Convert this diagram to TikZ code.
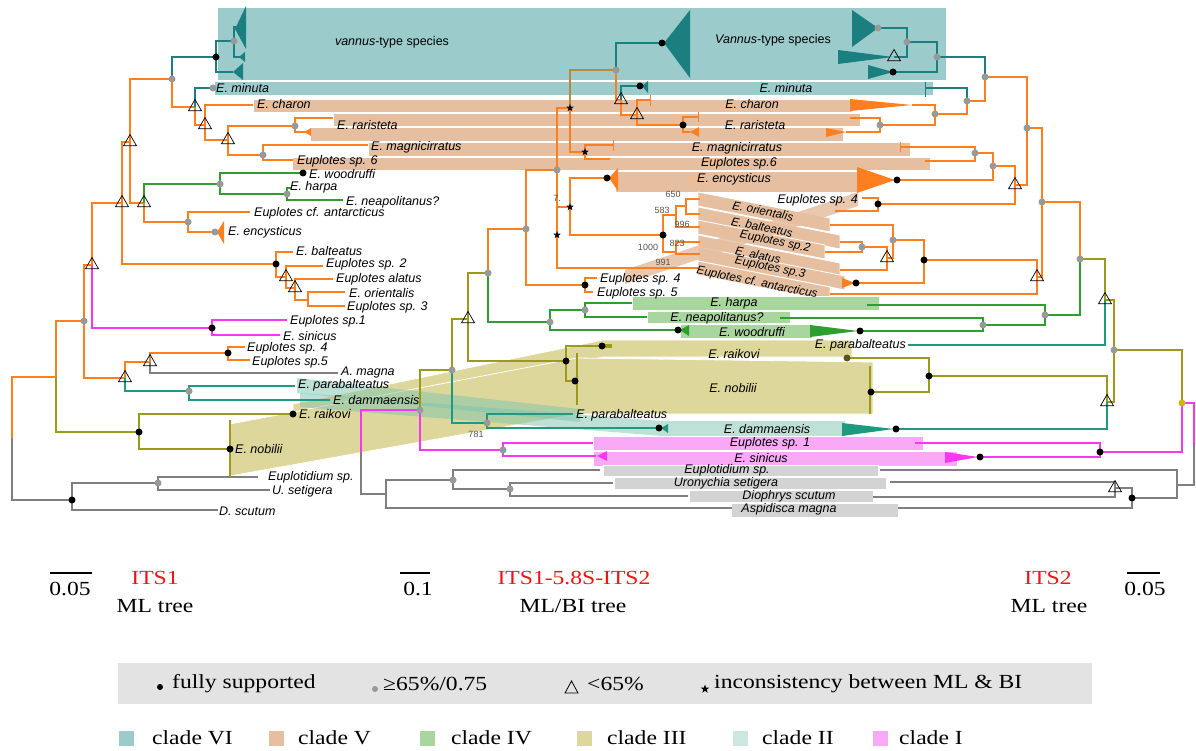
\documentclass[tikz,border=0pt]{standalone}
\usepackage{fontspec}
\setmainfont{Liberation Serif}
\newfontfamily\sanf{Liberation Sans}
\newfontfamily\lgf[FakeStretch=1.18]{Liberation Serif}
\usetikzlibrary{shapes.geometric}
\definecolor{cOr}{HTML}{FF7F1E}
\definecolor{cTe}{HTML}{1B7F7F}
\definecolor{cTeB}{HTML}{9BCBCB}
\definecolor{cTan}{HTML}{E6BFA0}
\definecolor{cGr}{HTML}{2E9E2E}
\definecolor{cGrB}{HTML}{A9D69E}
\definecolor{cOl}{HTML}{9C9A1C}
\definecolor{cOlB}{HTML}{DDD79B}
\definecolor{cII}{HTML}{1F9A80}
\definecolor{cIIB}{HTML}{7FC4B0}
\definecolor{cMa}{HTML}{F838F0}
\definecolor{cMaB}{HTML}{FAA9F7}
\definecolor{cGy}{HTML}{7F7F7F}
\definecolor{cGyB}{HTML}{D3D3D3}
\definecolor{cGd}{HTML}{999999}
\definecolor{cBr}{HTML}{B8893A}
\definecolor{cLeg}{HTML}{E3E3E3}
\definecolor{cRed}{HTML}{F01414}
\definecolor{cNum}{HTML}{555555}
\definecolor{cYd}{HTML}{C8B41E}
\definecolor{cOd}{HTML}{5A5418}
\newcommand\labf{\fontsize{12.5}{14}\selectfont\sanf\itshape}
\newcommand\slf{\fontsize{11.8}{13}\selectfont\sanf\itshape}
\newcommand\numf{\fontsize{9}{10}\selectfont\sanf}
\newcommand\legf{\fontsize{20}{22}\selectfont\lgf}
\newcommand\brn[3]{\draw[br,#1] (#2) |- (#3);}
\newcommand\BD[1]{\node[bd] (b#1) at (#1) {};}
\newcommand\GD[1]{\node[gd] (g#1) at (#1) {};}
\newcommand\TR[1]{\node[tri] (t#1) at (#1) {};}
\newcommand\ST[1]{\node[st] (s#1) at (#1) {};}
\begin{document}
\begin{tikzpicture}[x=1pt,y=-1pt,
  br/.style={line width=1.7pt},
  bd/.style={circle,fill=black,inner sep=0pt,minimum size=7pt},
  gd/.style={circle,fill=cGd,inner sep=0pt,minimum size=7pt},
  tri/.style={regular polygon,regular polygon sides=3,draw=black,line width=0.7pt,inner sep=0pt,minimum size=15pt},
  st/.style={star,star points=5,star point ratio=2.5,fill=black,inner sep=0pt,minimum size=8pt},
  lab/.style={font=\labf,inner sep=0pt,anchor=west},
  labc/.style={font=\labf,inner sep=0pt},
  labs/.style={font=\slf,inner sep=0pt,rotate=-11.3},
  num/.style={font=\numf,text=cNum,inner sep=0pt},
  leg/.style={font=\legf,inner sep=0pt},
  band/.style={draw=white,line width=0.8pt}]
\useasboundingbox (0,0) rectangle (1196,751);
\fill[white] (0,0) rectangle (1196,751);

% ---------------- bands ----------------
\fill[cTeB] (218,8) rectangle (946,80);
\fill[cTeB] (215,82) rectangle (933,95);
\fill[cTan,band] (253,99) rectangle (852,112);
\fill[cTan,band] (333,113) rectangle (860,126);
\fill[cTan,band] (310,127) rectangle (843,141);
\fill[cTan,band] (368,142) rectangle (910,156);
\fill[cTan,band] (292,157) rectangle (930,170);
\fill[cTan,band] (615,171) rectangle (858,192);
% slanted clade V bands (middle -> right)
\fill[cTan,band] (698,192) -- (830,218) -- (830,232) -- (698,206) -- cycle;
\fill[cTan,band] (698,207) -- (840,235) -- (840,249) -- (698,221) -- cycle;
\fill[cTan,band] (698,220) -- (825,245) -- (825,259) -- (698,234) -- cycle;
\fill[cTan,band] (698,235) -- (840,263) -- (840,277) -- (698,249) -- cycle;
\fill[cTan,band] (698,247) -- (845,276) -- (845,290) -- (698,261) -- cycle;
\fill[cTan,band] (698,261) -- (830,287) -- (830,301) -- (698,275) -- cycle;
\fill[cTan,opacity=0.85] (625,270) -- (858,192) -- (858,206) -- (625,284) -- cycle;
% clade IV
\fill[cGrB,band] (632,296) rectangle (879,310);
\fill[cGrB,band] (647,311) rectangle (790,323);
\fill[cGrB,band] (680,324) rectangle (812,338);
% clade III
\fill[cOlB,band] (293,404) -- (603,340) -- (852,340) -- (852,357) -- (603,357) -- (293,420) -- cycle;
\fill[cOlB,band] (230,424) -- (577,358) -- (873,362) -- (873,414) -- (577,414) -- (230,476) -- cycle;
% clade II
\fill[cIIB,opacity=0.5] (297,378) -- (580,409) -- (580,422) -- (297,393) -- cycle;
\fill[cIIB,opacity=0.5] (300,393) -- (662,421) -- (845,421) -- (845,436) -- (662,436) -- (300,407) -- cycle;
% clade I
\fill[cMaB,band] (593,436) rectangle (923,450);
\fill[cMaB,band] (593,451) rectangle (957,466);
% outgroups
\fill[cGyB,band] (603,465) rectangle (878,476);
\fill[cGyB,band] (614,477) rectangle (886,489);
\fill[cGyB,band] (689,490) rectangle (873,502);
\fill[cGyB,band] (731,503) rectangle (898,517);

% ---------------- LEFT TREE ----------------
\coordinate (L0) at (12,438);
\coordinate (L1) at (56,377);
\coordinate (L2) at (84,321);
\coordinate (L3) at (92,265);
\coordinate (L4) at (125,378);
\coordinate (L5) at (122,203);
\coordinate (L6) at (130,142);
\coordinate (L7) at (172,79);
\coordinate (L8) at (144,203);
\coordinate (L9) at (195,107);
\coordinate (L10) at (205,125);
\coordinate (L11) at (228,140);
\coordinate (L12) at (295,126);
\coordinate (L13) at (263,155);
\coordinate (Lvan) at (216,57);
\coordinate (Lv1) at (234,41);
\coordinate (Lgr) at (220,184);
\coordinate (Lgr2) at (287,194);
\coordinate (L14) at (188,222);
\coordinate (Lbal) at (276,264);
\coordinate (L15) at (286,277);
\coordinate (L16) at (295,288);
\coordinate (L17) at (308,300);
\coordinate (Lmag) at (212,328);
\coordinate (L18) at (150,362);
\coordinate (L19) at (228,353);
\coordinate (LII) at (189,391);
\coordinate (Lol) at (139,432);
\coordinate (Lout) at (72,500);
\coordinate (L20) at (158,483);
\coordinate (tLva) at (236,27);
\coordinate (tLvb) at (240,57);
\coordinate (tLvc) at (233,72);
\coordinate (tLmin) at (213,88);
\coordinate (tLcha) at (253,105);
\coordinate (tLra) at (333,118);
\coordinate (tLrb) at (306,132);
\coordinate (tLmag) at (368,145);
\coordinate (tLsp6) at (293,160);
\coordinate (tLwoo) at (303,173);
\coordinate (tLhar) at (291,188);
\coordinate (tLnea) at (343,200);
\coordinate (tLant) at (250,212);
\coordinate (tLenc) at (215,232);
\coordinate (tLbal) at (293,252);
\coordinate (tLsp2) at (323,266);
\coordinate (tLala) at (333,279);
\coordinate (tLori) at (345,292);
\coordinate (tLsp3) at (345,306);
\coordinate (tLsp1) at (287,320);
\coordinate (tLsin) at (280,335);
\coordinate (tLsp4) at (245,347);
\coordinate (tLsp5) at (250,360);
\coordinate (tLama) at (338,373);
\coordinate (tLpar) at (295,386);
\coordinate (tLdam) at (330,400);
\coordinate (tLrai) at (293,414);
\coordinate (tLnob) at (230,449);
\coordinate (tLeud) at (258,477);
\coordinate (tLuro) at (270,490);
\coordinate (tLdsc) at (218,510);

\brn{cOr}{L0}{L1} \brn{cGy}{L0}{Lout}
\brn{cOr}{L1}{L2} \brn{cOl}{L1}{Lol}
\brn{cOr}{L2}{L3} \brn{cOr}{L2}{L4}
\brn{cOr}{L3}{L5} \brn{cMa}{L3}{Lmag}
\brn{cOr}{L5}{L6} \brn{cOr}{L5}{Lbal}
\brn{cOr}{L6}{L7} \brn{cOr}{L6}{L8}
\brn{cTe}{L7}{Lvan} \brn{cOr}{L7}{L9}
\brn{cTe}{Lvan}{Lv1} \brn{cTe}{Lvan}{tLvc}
\brn{cTe}{Lv1}{tLva} \brn{cTe}{Lv1}{tLvb}
\brn{cTe}{L9}{tLmin} \brn{cOr}{L9}{L10}
\brn{cOr}{L10}{tLcha} \brn{cOr}{L10}{L11}
\brn{cOr}{L11}{L12} \brn{cOr}{L11}{L13}
\brn{cOr}{L12}{tLra} \brn{cOr}{L12}{tLrb}
\brn{cOr}{L13}{tLmag} \brn{cOr}{L13}{tLsp6}
\brn{cGr}{L8}{Lgr} \brn{cOr}{L8}{L14}
\brn{cGr}{Lgr}{tLwoo} \brn{cGr}{Lgr}{Lgr2}
\brn{cGr}{Lgr2}{tLhar} \brn{cGr}{Lgr2}{tLnea}
\brn{cOr}{L14}{tLant} \brn{cOr}{L14}{tLenc}
\brn{cOr}{Lbal}{tLbal} \brn{cOr}{Lbal}{L15}
\brn{cOr}{L15}{tLsp2} \brn{cOr}{L15}{L16}
\brn{cOr}{L16}{tLala} \brn{cOr}{L16}{L17}
\brn{cOr}{L17}{tLori} \brn{cOr}{L17}{tLsp3}
\brn{cMa}{Lmag}{tLsp1} \brn{cMa}{Lmag}{tLsin}
\brn{cOr}{L4}{L18} \brn{cII}{L4}{LII}
\brn{cOr}{L18}{L19} \brn{cGy}{L18}{tLama}
\brn{cOr}{L19}{tLsp4} \brn{cOr}{L19}{tLsp5}
\brn{cII}{LII}{tLpar} \brn{cII}{LII}{tLdam}
\brn{cOl}{Lol}{tLrai} \brn{cOl}{Lol}{tLnob}
\brn{cGy}{Lout}{L20} \brn{cGy}{Lout}{tLdsc}
\brn{cGy}{L20}{tLeud} \brn{cGy}{L20}{tLuro}

% collapsed clades (left)
\fill[cTe] (235,29) -- (246,6) -- (246,49) -- cycle;
\fill[cTe] (239,57) -- (245,52) -- (245,62) -- cycle;
\fill[cTe] (233,72) -- (243,63) -- (243,80) -- cycle;
\fill[cOr] (217,232) -- (224,221) -- (224,244) -- cycle;
\fill[cOr] (304,132) -- (311,128) -- (311,136) -- cycle;
\draw[cOl,line width=1.1pt] (230,420) -- (230,477);

% ---------------- MIDDLE TREE ----------------
\coordinate (M0) at (361,452);
\coordinate (M1) at (420,410);
\coordinate (Mout) at (386,494);
\coordinate (Mo1) at (453,480);
\coordinate (Mo2) at (510,489);
\coordinate (MI) at (503,450);
\coordinate (M2) at (452,370);
\coordinate (MII) at (487,423);
\coordinate (M3) at (468,319);
\coordinate (M4) at (488,273);
\coordinate (M5) at (566,361);
\coordinate (MIV) at (550,322);
\coordinate (MIV2) at (585,310);
\coordinate (M6) at (526,229);
\coordinate (M7) at (557,170);
\coordinate (M8) at (585,285);
\coordinate (M9) at (570,108);
\coordinate (MD) at (557,235);
\coordinate (M10) at (570,207);
\coordinate (MF) at (585,152);
\coordinate (ME) at (616,70);
\coordinate (MG) at (621,100);
\coordinate (MH) at (637,115);
\coordinate (MI2) at (683,125);
\coordinate (MC) at (663,235);
\coordinate (Ma) at (676,215);
\coordinate (Mb) at (686,206);
\coordinate (Md) at (676,252);
\coordinate (tMeud) at (600,470);
\coordinate (tMuro) at (613,483);
\coordinate (tMdsc) at (688,496);
\coordinate (tMasp) at (732,508);
\coordinate (tMsp1) at (593,443);
\coordinate (tMsin) at (596,456);
\coordinate (tMpar) at (573,414);
\coordinate (tMdam) at (659,428);
\coordinate (tMhar) at (632,303);
\coordinate (tMnea) at (647,317);
\coordinate (tMwoo) at (678,330);
\coordinate (tMrai) at (602,346);
\coordinate (tMnob) at (575,381);
\coordinate (tMsp4) at (597,278);
\coordinate (tMsp5) at (593,292);
\coordinate (tMant) at (698,268);
\coordinate (tMmag) at (613,145);
\coordinate (tMsp6) at (610,159);
\coordinate (tMvan) at (662,43);
\coordinate (tMmin) at (640,86);
\coordinate (tMcha) at (650,100);
\coordinate (tMra) at (698,117);
\coordinate (tMrb) at (690,132);
\coordinate (tMenc) at (607,178);
\coordinate (tMori) at (700,199);
\coordinate (tMbal) at (700,214);
\coordinate (tMsp2) at (700,227);
\coordinate (tMala) at (700,242);
\coordinate (tMsp3) at (700,254);

\brn{cMa}{M0}{M1} \brn{cGy}{M0}{Mout}
\brn{cGy}{Mout}{Mo1} \brn{cGy}{Mout}{tMasp}
\brn{cGy}{Mo1}{tMeud} \brn{cGy}{Mo1}{Mo2}
\brn{cGy}{Mo2}{tMuro} \brn{cGy}{Mo2}{tMdsc}
\brn{cOl}{M1}{M2} \brn{cMa}{M1}{MI}
\brn{cMa}{MI}{tMsp1} \brn{cMa}{MI}{tMsin}
\brn{cOl}{M2}{M3} \brn{cII}{M2}{MII}
\brn{cII}{MII}{tMpar} \brn{cII}{MII}{tMdam}
\brn{cOl}{M3}{M4} \brn{cOl}{M3}{M5}
\brn{cOr}{M4}{M6} \brn{cGr}{M4}{MIV}
\brn{cGr}{MIV}{MIV2} \brn{cGr}{MIV}{tMwoo}
\brn{cGr}{MIV2}{tMhar} \brn{cGr}{MIV2}{tMnea}
\brn{cOl}{M5}{tMrai} \brn{cOl}{M5}{tMnob}
\brn{cOr}{M6}{M7} \brn{cOr}{M6}{M8}
\brn{cOr}{M8}{tMsp4} \brn{cOr}{M8}{tMsp5}
\brn{cOr}{M7}{M9} \brn{cOr}{M7}{MD}
\brn{cBr}{M9}{ME} \brn{cOr}{M9}{MF}
\brn{cOr}{MF}{tMmag} \brn{cOr}{MF}{tMsp6}
\brn{cTe}{ME}{tMvan} \brn{cOr}{ME}{MG}
\brn{cTe}{MG}{tMmin} \brn{cOr}{MG}{MH}
\brn{cOr}{MH}{tMcha} \brn{cOr}{MH}{MI2}
\brn{cOr}{MI2}{tMra} \brn{cOr}{MI2}{tMrb}
\brn{cOr}{MD}{M10} \brn{cOr}{MD}{tMant}
\brn{cOr}{M10}{tMenc} \brn{cOr}{M10}{MC}
\brn{cOr}{MC}{Ma} \brn{cOr}{MC}{Md}
\brn{cOr}{Ma}{Mb} \brn{cOr}{Ma}{tMsp2}
\brn{cOr}{Mb}{tMori} \brn{cOr}{Mb}{tMbal}
\brn{cOr}{Md}{tMala} \brn{cOr}{Md}{tMsp3}

% collapsed clades (middle)
\fill[cTe] (664,43) -- (690,10) -- (690,78) -- cycle;
\fill[cTe] (642,86) -- (648,81) -- (648,93) -- cycle;
\fill[cOr] (609,178) -- (618,168) -- (618,191) -- cycle;
\fill[cGr] (680,330) -- (689,325) -- (689,336) -- cycle;
\fill[cII] (661,428) -- (668,424) -- (668,433) -- cycle;
\fill[cMa] (597,456) -- (607,451) -- (607,461) -- cycle;
\fill[cOr] (690,132) -- (699,127) -- (699,137) -- cycle;
\draw[cOr,line width=1pt] (650,95) -- (650,106) (613,140) -- (613,151) (698,112) -- (698,122);
\draw[cOl,line width=4pt] (603,346) -- (612,346);
\draw[cOl,line width=1.1pt] (577,353) -- (577,405);

% ---------------- RIGHT TREE ----------------
\coordinate (R0) at (1194,445);
\coordinate (RM) at (1182,403);
\coordinate (Rout) at (1177,485);
\coordinate (Ro1) at (1132,498);
\coordinate (Ro2) at (1115,488);
\coordinate (RI) at (1100,452);
\coordinate (R1) at (1114,350);
\coordinate (R2) at (1105,300);
\coordinate (R3) at (1107,402);
\coordinate (R4) at (929,376);
\coordinate (RW) at (1080,259);
\coordinate (RIV) at (1045,315);
\coordinate (RIV2) at (983,325);
\coordinate (RP) at (1042,202);
\coordinate (R5) at (1027,128);
\coordinate (R6) at (1037,277);
\coordinate (Rtop) at (985,77);
\coordinate (R7) at (1015,185);
\coordinate (Rvan) at (937,57);
\coordinate (Rv1) at (907,42);
\coordinate (Rmin) at (967,101);
\coordinate (R8) at (935,114);
\coordinate (R9) at (880,125);
\coordinate (R10) at (993,166);
\coordinate (R11) at (878,204);
\coordinate (R12) at (975,153);
\coordinate (RQ) at (924,260);
\coordinate (RR) at (893,240);
\coordinate (RS) at (887,258);
\coordinate (RU) at (862,247);
\coordinate (tRsp1) at (915,443);
\coordinate (tRsin) at (980,457);
\coordinate (tRpar) at (908,345);
\coordinate (tRdam) at (896,429);
\coordinate (tRrai) at (847,358);
\coordinate (tRnob) at (871,392);
\coordinate (tRhar) at (867,305);
\coordinate (tRnea) at (780,318);
\coordinate (tRwoo) at (860,331);
\coordinate (tRva) at (878,28);
\coordinate (tRvb) at (894,57);
\coordinate (tRvc) at (893,72);
\coordinate (tRmin) at (925,88);
\coordinate (tRcha) at (912,105);
\coordinate (tRra) at (850,118);
\coordinate (tRrb) at (846,132);
\coordinate (tRmag) at (900,147);
\coordinate (tRsp6) at (925,161);
\coordinate (tRenc) at (897,180);
\coordinate (tRsp4) at (862,198);
\coordinate (tRsp5) at (835,211);
\coordinate (tRori) at (830,225);
\coordinate (tRbal) at (840,242);
\coordinate (tRsp2) at (825,252);
\coordinate (tRala) at (840,270);
\coordinate (tRsp3) at (856,283);
\coordinate (tRant) at (830,294);
\coordinate (tReud) at (880,470);
\coordinate (tRuro) at (890,482);
\coordinate (tRdsc) at (873,497);
\coordinate (tRasp) at (898,508);

\brn{cMa}{R0}{RM} \brn{cGy}{R0}{Rout}
\brn{cGy}{Rout}{tReud} \brn{cGy}{Rout}{Ro1}
\brn{cGy}{Ro1}{Ro2} \brn{cGy}{Ro1}{tRasp}
\brn{cGy}{Ro2}{tRuro} \brn{cGy}{Ro2}{tRdsc}
\brn{cOl}{RM}{R1} \brn{cMa}{RM}{RI}
\brn{cMa}{RI}{tRsp1} \brn{cMa}{RI}{tRsin}
\brn{cOl}{R1}{R2} \brn{cOl}{R1}{R3}
\brn{cOl}{R2}{RW} \brn{cII}{R2}{tRpar}
\brn{cOl}{R3}{R4} \brn{cII}{R3}{tRdam}
\brn{cOl}{R4}{tRrai} \brn{cOl}{R4}{tRnob}
\brn{cOr}{RW}{RP} \brn{cGr}{RW}{RIV}
\brn{cGr}{RIV}{tRhar} \brn{cGr}{RIV}{RIV2}
\brn{cGr}{RIV2}{tRnea} \brn{cGr}{RIV2}{tRwoo}
\brn{cOr}{RP}{R5} \brn{cOr}{RP}{R6}
\brn{cOr}{R5}{Rtop} \brn{cOr}{R5}{R7}
\brn{cTe}{Rtop}{Rvan} \brn{cOr}{Rtop}{Rmin}
\brn{cTe}{Rvan}{Rv1} \brn{cTe}{Rvan}{tRvc}
\brn{cTe}{Rv1}{tRva} \brn{cTe}{Rv1}{tRvb}
\brn{cTe}{Rmin}{tRmin} \brn{cOr}{Rmin}{R8}
\brn{cOr}{R8}{tRcha} \brn{cOr}{R8}{R9}
\brn{cOr}{R9}{tRra} \brn{cOr}{R9}{tRrb}
\brn{cOr}{R7}{R10} \brn{cOr}{R7}{R11}
\brn{cOr}{R10}{R12} \brn{cOr}{R10}{tRenc}
\brn{cOr}{R12}{tRmag} \brn{cOr}{R12}{tRsp6}
\brn{cOr}{R11}{tRsp4} \brn{cOr}{R11}{tRsp5}
\brn{cOr}{R6}{RQ} \brn{cOr}{R6}{tRant}
\brn{cOr}{RQ}{RR} \brn{cOr}{RQ}{tRsp3}
\brn{cOr}{RR}{tRori} \brn{cOr}{RR}{RS}
\brn{cOr}{RS}{RU} \brn{cOr}{RS}{tRala}
\brn{cOr}{RU}{tRbal} \brn{cOr}{RU}{tRsp2}

% collapsed clades (right)
\fill[cTe] (852,10) -- (852,47) -- (878,28) -- cycle;
\fill[cTe] (838,50) -- (838,64) -- (893,57) -- cycle;
\fill[cTe] (868,65) -- (868,79) -- (893,72) -- cycle;
\fill[cOr] (850,99) -- (850,111) -- (912,105) -- cycle;
\fill[cOr] (826,128) -- (826,137) -- (846,132) -- cycle;
\fill[cOr] (857,167) -- (857,193) -- (895,180) -- cycle;
\fill[cOr] (842,278) -- (842,288) -- (855,283) -- cycle;
\fill[cGr] (810,325) -- (810,337) -- (858,331) -- cycle;
\fill[cII] (842,423) -- (842,436) -- (894,429) -- cycle;
\fill[cMa] (945,452) -- (945,463) -- (978,457) -- cycle;
\draw[cTe,line width=1pt] (925,82) -- (925,97);
\draw[cOr,line width=1pt] (900,142) -- (900,152);
\draw[cOl,line width=1.1pt] (870,366) -- (870,414);

% ---------------- support markers ----------------
\GD{L2} \GD{L7} \GD{Lv1} \GD{tLmin} \GD{L12} \GD{L13} \GD{Lgr} \GD{Lgr2} \GD{L14} \GD{tLenc} \GD{LII} \GD{L20}
\BD{Lvan} \BD{Lbal} \BD{Lmag} \BD{L19} \BD{Lol} \BD{tLwoo} \BD{tLrai} \BD{tLnob} \BD{Lout}
\TR{L3} \TR{L5} \TR{L6} \TR{L8} \TR{L9} \TR{L10} \TR{L11} \TR{L4} \TR{L18} \TR{L15} \TR{L16}

\GD{M1} \GD{Mo1} \GD{Mo2} \GD{M2} \GD{MII} \GD{MI} \GD{M4} \GD{MIV} \GD{MIV2} \GD{M6} \GD{M7} \GD{ME}
\BD{M5} \BD{M8} \BD{MI2} \BD{MC} \BD{tMenc} \BD{tMvan} \BD{tMmin} \BD{tMwoo} \BD{tMdam} \BD{tMrai} \BD{tMnob}
\TR{M3} \TR{MG} \TR{MH}
\ST{M9} \ST{M10} \ST{MF} \ST{MD}

\GD{R1} \GD{RW} \GD{RIV} \GD{RIV2} \GD{RP} \GD{R5} \GD{Rtop} \GD{Rvan} \GD{Rv1} \GD{tRva} \GD{Rmin} \GD{R8} \GD{R9} \GD{R10} \GD{R12} \GD{RR} \GD{RU}
\BD{RI} \BD{R4} \BD{tRenc} \BD{R11} \BD{RQ} \BD{tRsp3} \BD{tRvc} \BD{tRwoo} \BD{tRdam} \BD{tRsin} \BD{tRnob} \BD{Ro1}
\TR{R2} \TR{R3} \TR{R7} \TR{R6} \TR{RS} \TR{tRvb} \TR{Ro2}
\node[circle,fill=cYd,inner sep=0pt,minimum size=7pt] (yRM) at (RM) {};
\node[circle,fill=cOd,inner sep=0pt,minimum size=7pt] (oRrai) at (tRrai) {};

% ---------------- labels: left ----------------
\node[labc] (lLvan) at (392,42) {vannus\upshape-type species};
\node[lab] (lLmin) at (216,88) {E. minuta};
\node[lab] (lLcha) at (257,104) {E. charon};
\node[lab] (lLra) at (337,125) {E. raristeta};
\node[lab] (lLmag) at (371,147) {E. magnicirratus};
\node[lab] (lLsp6) at (297,161) {Euplotes sp. 6};
\node[lab] (lLwoo) at (309,174) {E. woodruffi};
\node[lab] (lLhar) at (290,187) {E. harpa};
\node[lab] (lLnea) at (346,202) {E. neapolitanus?};
\node[lab] (lLant) at (254,213) {Euplotes cf. antarcticus};
\node[lab] (lLenc) at (228,232) {E. encysticus};
\node[lab] (lLbal) at (296,251) {E. balteatus};
\node[lab] (lLsp2) at (326,264) {Euplotes sp. 2};
\node[lab] (lLala) at (336,279) {Euplotes alatus};
\node[lab] (lLori) at (349,293) {E. orientalis};
\node[lab] (lLsp3) at (347,307) {Euplotes sp. 3};
\node[lab] (lLsp1) at (290,321) {Euplotes sp.1};
\node[lab] (lLsin) at (283,336) {E. sinicus};
\node[lab] (lLsp4) at (247,348) {Euplotes sp. 4};
\node[lab] (lLsp5) at (252,362) {Euplotes sp.5};
\node[lab] (lLama) at (341,372) {A. magna};
\node[lab] (lLpar) at (298,385) {E. parabalteatus};
\node[lab] (lLdam) at (333,400) {E. dammaensis};
\node[lab] (lLrai) at (299,414) {E. raikovi};
\node[lab] (lLnob) at (235,449) {E. nobilii};
\node[lab] (lLeud) at (268,477) {Euplotidium sp.};
\node[lab] (lLuro) at (272,491) {U. setigera};
\node[lab] (lLdsc) at (219,511) {D. scutum};

% ---------------- labels: middle ----------------
\node[labc] (lMvan) at (773,40) {Vannus\upshape-type species};
\node[labc] (lMmin) at (786,88) {E. minuta};
\node[labc] (lMcha) at (752,104) {E. charon};
\node[labc] (lMra) at (755,125) {E. raristeta};
\node[labc] (lMmag) at (737,148) {E. magnicirratus};
\node[labc] (lMsp6) at (739,163) {Euplotes sp.6};
\node[labc] (lMenc) at (734,179) {E. encysticus};
\node[labs] (lMori) at (763,211) {E. orientalis};
\node[labs] (lMbal) at (762,227) {E. balteatus};
\node[labs] (lMsp2) at (775,242) {Euplotes sp.2};
\node[labs] (lMala) at (758,255) {E. alatus};
\node[labs] (lMsp3) at (770,268) {Euplotes sp.3};
\node[labs] (lMant) at (757,283) {Euplotes cf. antarcticus};
\node[lab] (lMsp4) at (600,279) {Euplotes sp. 4};
\node[lab] (lMsp5) at (597,293) {Euplotes sp. 5};
\node[labc] (lMhar) at (734,303) {E. harpa};
\node[labc] (lMnea) at (717,318) {E. neapolitanus?};
\node[labc] (lMwoo) at (752,332) {E. woodruffi};
\node[labc] (lMrai) at (734,354) {E. raikovi};
\node[labc] (lMnob) at (733,388) {E. nobilii};
\node[lab] (lMpar) at (576,415) {E. parabalteatus};
\node[labc] (lMdam) at (767,429) {E. dammaensis};
\node[labc] (lMsp1) at (770,443) {Euplotes sp. 1};
\node[labc] (lMsin) at (761,458) {E. sinicus};
\node[labc] (lMeud) at (727,470) {Euplotidium sp.};
\node[labc] (lMuro) at (726,483) {Uronychia setigera};
\node[labc] (lMdsc) at (789,496) {Diophrys scutum};
\node[labc] (lMasp) at (789,509) {Aspidisca magna};
\node[num] (n781) at (476,434) {781};
\node[num] (n650) at (673,194) {650};
\node[num] (n583) at (662,210) {583};
\node[num] (n996) at (682,224) {996};
\node[num] (n1000) at (648,247) {1000};
\node[num] (n823) at (677,243) {823};
\node[num] (n991) at (663,262) {991};
\node[num] (n7) at (557,198) {7.};

% ---------------- labels: right ----------------
\node[lab,anchor=east] (lRsp4) at (858,200) {Euplotes sp. 4};
\node[lab,anchor=east] (lRpar) at (906,345) {E. parabalteatus};

% ---------------- scale bars and titles ----------------
\draw[line width=1.4pt] (50,573) -- (92,573);
\node[leg] (s1) at (70,589) {0.05};
\node[leg,text=cRed] (t1) at (155,578) {ITS1};
\node[leg] (m1) at (155,606) {ML tree};
\draw[line width=1.4pt] (400,573) -- (430,573);
\node[leg] (s2) at (418,589) {0.1};
\node[leg,text=cRed] (t2) at (574,578) {ITS1-5.8S-ITS2};
\node[leg] (m2) at (573,606) {ML/BI tree};
\node[leg,text=cRed] (t3) at (1048,578) {ITS2};
\node[leg] (m3) at (1049,606) {ML tree};
\draw[line width=1.4pt] (1127,573) -- (1160,573);
\node[leg] (s3) at (1145,589) {0.05};

% ---------------- legend ----------------
\fill[cLeg] (118,663) rectangle (1092,704);
\fill[black] (160,687) circle (3pt);
\node[leg,anchor=west] (k1) at (172,684) {fully supported};
\fill[cGd] (375,689) circle (3pt);
\node[leg,anchor=west] (k2) at (383,684) {≥65\%/0.75};
\draw[line width=0.8pt] (565,693) -- (578,693) -- (571.5,681) -- cycle;
\node[leg,anchor=west] (k3) at (587,684) {<65\%};
\node[st,minimum size=9pt] (k4s) at (705,689) {};
\node[leg,anchor=west] (k4) at (714,684) {inconsistency between ML \& BI};

\fill[cTeB] (119,731) rectangle (134,746);
\node[leg,anchor=west] (c6) at (152,738) {clade VI};
\fill[cTan] (269,731) rectangle (284,746);
\node[leg,anchor=west] (c5) at (298,738) {clade V};
\fill[cGrB] (420,731) rectangle (435,746);
\node[leg,anchor=west] (c4) at (451,738) {clade IV};
\fill[cOlB] (577,731) rectangle (592,746);
\node[leg,anchor=west] (c3) at (607,738) {clade III};
\fill[cIIB!40] (733,731) rectangle (748,746);
\node[leg,anchor=west] (c2) at (762,738) {clade II};
\fill[cMaB] (873,731) rectangle (888,746);
\node[leg,anchor=west] (c1) at (899,738) {clade I};
\end{tikzpicture}
\end{document}
